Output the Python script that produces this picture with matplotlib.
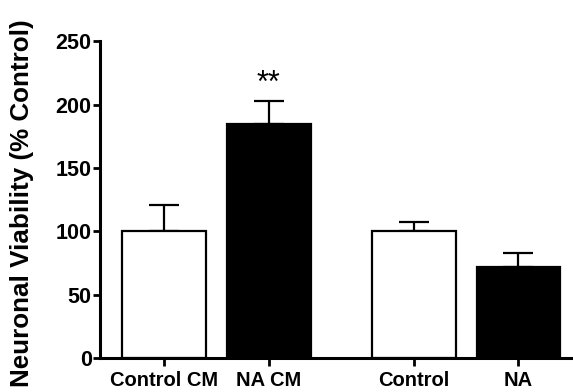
import matplotlib
matplotlib.use("Agg")
import matplotlib.pyplot as plt

# data
groups = ["Control CM", "NA CM", "Control", "NA"]
positions = [0.0, 1.0, 2.38, 3.38]
viability = [100, 184.5, 100, 71.5]
sem = [21, 18, 7, 11]
fills = ["white", "black", "white", "black"]
yticks = [0, 50, 100, 150, 200, 250]

plt.rcParams["font.family"] = ["Liberation Sans", "DejaVu Sans"]
plt.rcParams["font.weight"] = "bold"

fig = plt.figure(figsize=(5.73, 3.92), dpi=100)
ax = fig.add_axes([0.1745, 0.0867, 0.8255, 0.8083])

ax.bar(positions, viability, width=0.8, color=fills, edgecolor="black",
       linewidth=1.6, zorder=2)
ax.errorbar(positions, viability, yerr=[[0] * len(sem), sem], fmt="none",
            ecolor="black", elinewidth=1.6, capsize=11, capthick=1.6, zorder=1)

ax.text(positions[1], viability[1] + sem[1] + 2, "**", ha="center",
        va="bottom", fontsize=22, fontweight="normal")

ax.set_xlim(-0.61, 3.9)
ax.set_ylim(0, 250)
ax.set_yticks(yticks)
ax.set_xticks(positions)
ax.set_xticklabels(groups, fontsize=14.5, fontweight="bold")
ax.tick_params(axis="y", labelsize=15.5, width=2, length=5, pad=1)
ax.tick_params(axis="x", width=2, length=6, pad=3)
for lbl in ax.get_yticklabels():
    lbl.set_fontweight("bold")

for side in ["top", "right"]:
    ax.spines[side].set_visible(False)
for side in ["left", "bottom"]:
    ax.spines[side].set_linewidth(2.2)

ax.set_ylabel("Neuronal Viability (% Control)", fontsize=18.7,
              fontweight="bold")
ax.yaxis.set_label_coords(-0.14, 0.49)

fig.savefig("out.png", dpi=100)
